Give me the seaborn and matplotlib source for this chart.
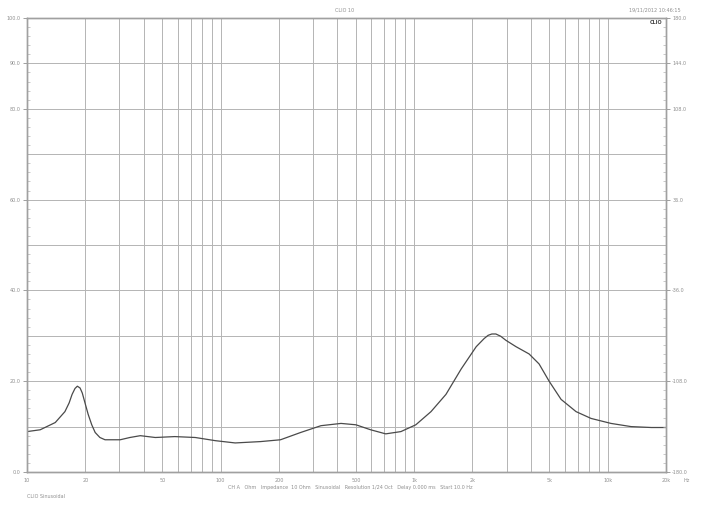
import numpy as np
import pandas as pd
import matplotlib
matplotlib.use("Agg")
import matplotlib.pyplot as plt
import seaborn as sns

# Impedance curve (Hz, Ohm)
freq_hz = [10, 11.7, 14.0, 15.7, 16.5, 17.1, 17.7, 18.2, 18.8, 19.3, 20.0, 20.7, 21.6,
           22.5, 23.8, 25.3, 30.3, 34, 38.5, 46, 58, 74, 94, 119, 161, 204, 259, 330,
           419, 500, 596, 713, 854, 1020, 1222, 1460, 1750, 2092, 2300, 2410, 2520,
           2643, 2800, 2980, 3360, 3925, 4420, 4980, 5740, 6860, 8200, 10400, 13200,
           16800, 20000]
impedance_ohm = [8.9, 9.3, 10.9, 13.3, 15.2, 17.1, 18.4, 18.9, 18.5, 17.4, 15.0, 12.7, 10.4,
                 8.7, 7.6, 7.1, 7.1, 7.6, 8.0, 7.6, 7.8, 7.6, 6.9, 6.4, 6.7, 7.1, 8.7, 10.2,
                 10.7, 10.4, 9.3, 8.4, 8.9, 10.4, 13.3, 17.1, 22.7, 27.6, 29.4, 30.1, 30.4,
                 30.4, 29.9, 29.0, 27.6, 26.0, 23.8, 20.0, 16.0, 13.3, 11.8, 10.7, 10.0,
                 9.8, 9.8]

x_ticks = [10, 20, 50, 100, 200, 500, 1000, 2000, 5000, 10000, 20000]
x_tick_labels = ["10", "20", "50", "100", "200", "500", "1k", "2k", "5k", "10k", "20k"]
left_tick_values = [0, 20, 40, 60, 80, 90, 100]
left_tick_labels = ["0.0", "20.0", "40.0", "60.0", "80.0", "90.0", "100.0"]
right_tick_values = [-180, -108, -36, 36, 108, 144, 180]
right_tick_labels = ["-180.0", "-108.0", "-36.0", "36.0", "108.0", "144.0", "180.0"]

df = pd.DataFrame({"Hz": freq_hz, "Ohm": impedance_ohm})

sns.set_style("white")
plt.rcParams["font.family"] = ["DejaVu Sans"]

fig = plt.figure(figsize=(7.05, 5.08), dpi=100)
ax = fig.add_axes([27 / 705, 36 / 508, (666 - 27) / 705, (472 - 18) / 508])

grid_c = "#b4b4b4"
axis_c = "#a0a0a0"
txt_c = "#8f8f8f"

sns.lineplot(data=df, x="Hz", y="Ohm", ax=ax, color="#4a4a4a", linewidth=0.9)
ax.set_xscale("log")
ax.set_xlim(10, 20000)
ax.set_ylim(0, 100)

# vertical grid
for dec in [10, 100, 1000, 10000]:
    for m in range(1, 10):
        f = dec * m
        if 10 < f < 20000:
            ax.axvline(f, color=grid_c, lw=0.7, zorder=0)
for v in range(10, 100, 10):
    ax.axhline(v, color=grid_c, lw=0.7, zorder=0)

ax.set_xticks(x_ticks)
ax.set_xticklabels(x_tick_labels)
ax.xaxis.set_minor_locator(matplotlib.ticker.NullLocator())
ax.set_yticks(left_tick_values)
ax.set_yticklabels(left_tick_labels)
ax.set_yticks(np.arange(0, 101, 2), minor=True)
ax.tick_params(axis="both", which="major", labelsize=3.5, colors=txt_c, length=3,
               width=0.6, pad=1.5)
ax.tick_params(axis="y", which="minor", length=2, width=0.5, colors=grid_c, direction="in")
ax.set_xlabel("")
ax.set_ylabel("")
for s in ax.spines.values():
    s.set_color(axis_c)
    s.set_linewidth(1.0)

ax2 = ax.twinx()
ax2.set_ylim(-180, 180)
ax2.set_yticks(right_tick_values)
ax2.set_yticklabels(right_tick_labels)
ax2.set_yticks(np.arange(-180, 181, 7.2), minor=True)
ax2.tick_params(axis="y", which="major", labelsize=3.5, colors=txt_c, length=3, width=0.6, pad=1.5)
ax2.tick_params(axis="y", which="minor", length=2, width=0.5, colors=grid_c, direction="in")
for s in ax2.spines.values():
    s.set_color(axis_c)
    s.set_linewidth(1.0)
ax2.grid(False)

fig.text(345 / 705, 1 - 10 / 508, "CLIO 10", fontsize=3.5, color=txt_c, ha="center", va="center")
fig.text(655 / 705, 1 - 10 / 508, "19/11/2012 10:46:15", fontsize=3.5, color=txt_c,
         ha="center", va="center")
fig.text(662 / 705, 1 - 22 / 508, "CLIO", fontsize=3.5, color="#444444", ha="right",
         va="center", fontweight="bold")
fig.text(350 / 705, 1 - 487 / 508,
         "CH A   Ohm   Impedance  10 Ohm   Sinusoidal   Resolution 1/24 Oct   Delay 0.000 ms   Start 10.0 Hz",
         fontsize=3.5, color=txt_c, ha="center", va="center")
fig.text(27 / 705, 1 - 497 / 508, "CLIO Sinusoidal", fontsize=3.5, color=txt_c,
         ha="left", va="center")
fig.text(684 / 705, 1 - 480 / 508, "Hz", fontsize=3.5, color=txt_c, ha="left", va="center")

fig.savefig("out.png", dpi=100, facecolor="white")
